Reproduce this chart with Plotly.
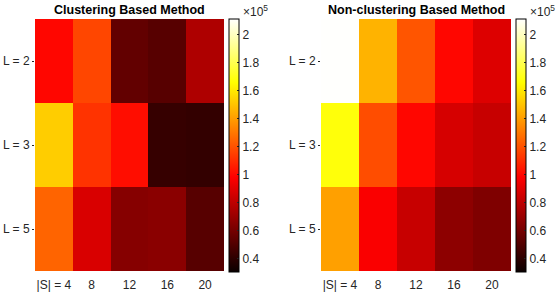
import plotly.graph_objects as go

W, H = 556, 292

s_labels = ["|S| = 4", "8", "12", "16", "20"]
l_labels = ["L = 2", "L = 3", "L = 5"]

clustering = [
    [100000, 117000, 55000, 52000, 76000],
    [153000, 112000, 102000, 43000, 42000],
    [125000, 88000, 65000, 66000, 52000],
]
non_clustering = [
    [211000, 146000, 121000, 100000, 89000],
    [168000, 119000, 100000, 87000, 83000],
    [141000, 97000, 83000, 67000, 63000],
]
titles = ["Clustering Based Method", "Non-clustering Based Method"]

cmin, cmax = 30700, 211400
cb_tickvals = [40000, 60000, 80000, 100000, 120000, 140000, 160000, 180000, 200000]
cb_ticktext = ["0.4", "0.6", "0.8", "1", "1.2", "1.4", "1.6", "1.8", "2"]

hot = [[0.0, "rgb(10,0,0)"], [0.375, "rgb(255,0,0)"],
       [0.75, "rgb(255,255,0)"], [1.0, "rgb(255,255,255)"]]

FONT = "Liberation Sans"
TXT = "rgb(38,38,38)"

def px(x):
    return x / W

def py(y):
    return 1 - y / H

top, bot = 19, 271
panels = [
    dict(x0=35, x1=224, cb=229),
    dict(x0=321, x1=511, cb=516),
]

fig = go.Figure()
xs = list(range(len(s_labels)))
ys = list(range(len(l_labels)))
for i, (z, p) in enumerate(zip([clustering, non_clustering], panels)):
    sfx = "" if i == 0 else str(i + 1)
    fig.add_trace(go.Heatmap(
        z=z, x=xs, y=ys, xaxis="x" + sfx, yaxis="y" + sfx,
        coloraxis="coloraxis" + sfx, xgap=0, ygap=0,
    ))
    fig.layout["xaxis" + sfx] = dict(
        domain=[px(p["x0"]), px(p["x1"])], anchor="y" + sfx,
        range=[-0.5, 4.5], tickvals=xs, ticktext=s_labels,
        showgrid=False, zeroline=False, showline=False,
        ticks="outside", ticklen=3, tickcolor="rgba(0,0,0,0)",
        tickfont=dict(family=FONT, size=12, color=TXT), fixedrange=True,
        automargin=False,
    )
    fig.layout["yaxis" + sfx] = dict(
        domain=[py(bot), py(top)], anchor="x" + sfx,
        range=[2.5, -0.5], tickvals=ys, ticktext=l_labels,
        showgrid=False, zeroline=False, showline=False,
        ticks="outside", ticklen=2, tickcolor=TXT,
        tickfont=dict(family=FONT, size=12, color=TXT), fixedrange=True,
        automargin=False,
    )
    fig.layout["coloraxis" + sfx] = dict(
        colorscale=hot, cmin=cmin, cmax=cmax,
        colorbar=dict(
            x=px(p["cb"]), xanchor="left", xpad=0, ypad=0,
            y=py((top + 272) / 2), yanchor="middle",
            len=(272 - top) / H, lenmode="fraction",
            thickness=10, thicknessmode="pixels",
            outlinewidth=1, outlinecolor="black",
            tickvals=cb_tickvals, ticktext=cb_ticktext,
            ticks="inside", ticklen=2, tickcolor=TXT,
            tickfont=dict(family=FONT, size=12, color=TXT),
        ),
    )
    fig.add_annotation(
        x=px((p["x0"] + p["x1"]) / 2), y=py(10), xref="paper", yref="paper",
        text="<b>" + titles[i] + "</b>", showarrow=False,
        font=dict(family=FONT, size=12.5, color="black"),
        xanchor="center", yanchor="middle",
    )
    fig.add_annotation(
        x=px(p["cb"] + 12), y=py(1), xref="paper", yref="paper",
        text="\u00d710<sup>5</sup>", showarrow=False,
        font=dict(family=FONT, size=12, color=TXT),
        xanchor="left", yanchor="top",
    )

fig.update_layout(
    width=W, height=H,
    margin=dict(l=0, r=0, t=0, b=0, autoexpand=False),
    paper_bgcolor="white", plot_bgcolor="white", showlegend=False,
)
fig.write_html(
    "out.html",
    config={"displayModeBar": False},
    post_script="document.body.style.margin='0';document.body.style.padding='0';",
)
